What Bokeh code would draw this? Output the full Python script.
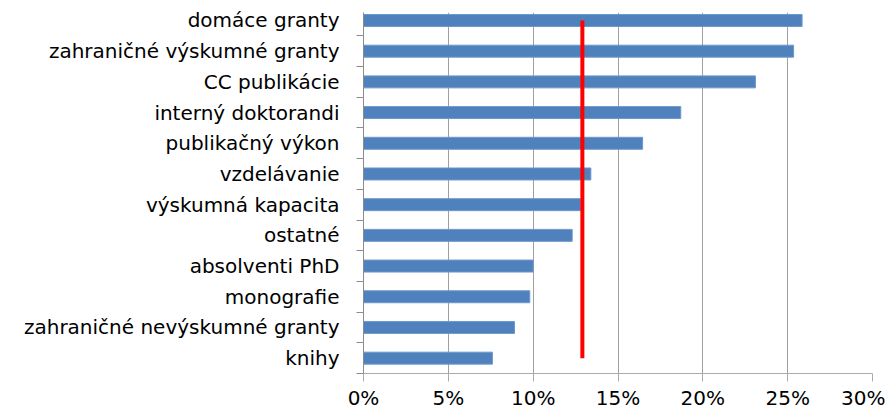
from bokeh.plotting import figure
from bokeh.models import Range1d, FixedTicker
from bokeh.embed import file_html
from bokeh.resources import INLINE

categories = ["domáce granty", "zahraničné výskumné granty", "CC publikácie",
              "interný doktorandi", "publikačný výkon", "vzdelávanie",
              "výskumná kapacita", "ostatné", "absolventi PhD", "monografie",
              "zahraničné nevýskumné granty", "knihy"]
values = [25.85, 25.35, 23.1, 18.7, 16.45, 13.4, 12.8, 12.3, 10.0, 9.8, 8.9, 7.6]
reference_value = 12.9
x_ticks = [0, 5, 10, 15, 20, 25, 30]
x_tick_labels = ["0%", "5%", "10%", "15%", "20%", "25%", "30%"]

n = len(categories)
ypos = [n - 0.5 - i for i in range(n)]

p = figure(width=885, height=412, output_backend="svg", toolbar_location=None,
           x_range=Range1d(0, 30), y_range=Range1d(0, 11.76),
           min_border_left=363, min_border_right=13, min_border_top=12,
           min_border_bottom=33)
p.outline_line_color = None
p.background_fill_color = "white"
p.border_fill_color = "white"

p.hbar(y=ypos, right=values, left=0, height=0.39, fill_color="#4F81BD",
       line_color="#6E98CC", line_width=1)

p.line(x=[reference_value, reference_value], y=[ypos[0], ypos[-1]],
       line_color="#FF0000", line_width=4)

# x axis
p.xaxis.ticker = FixedTicker(ticks=x_ticks)
p.xaxis.major_label_overrides = {t: l for t, l in zip(x_ticks, x_tick_labels)}
p.xaxis.axis_line_color = "#ABABAB"
p.xaxis.major_tick_line_color = "#ABABAB"
p.xaxis.major_tick_in = 0
p.xaxis.major_tick_out = 8
p.xaxis.minor_tick_line_color = None
p.xaxis.major_label_text_font = "DejaVu Sans"
p.xaxis.major_label_text_font_size = "20px"
p.xaxis.major_label_text_color = "#000000"
p.xaxis.major_label_standoff = 4

# y axis
p.yaxis.ticker = FixedTicker(ticks=ypos, minor_ticks=list(range(0, n)))
p.yaxis.major_label_overrides = {y: c for y, c in zip(ypos, categories)}
p.yaxis.axis_line_color = "#8C8C8C"
p.yaxis.major_tick_line_color = None
p.yaxis.major_tick_in = 0
p.yaxis.major_tick_out = 0
p.yaxis.minor_tick_line_color = "#8C8C8C"
p.yaxis.minor_tick_in = 0
p.yaxis.minor_tick_out = 7
p.yaxis.major_label_text_font = "DejaVu Sans"
p.yaxis.major_label_text_font_size = "20px"
p.yaxis.major_label_text_color = "#000000"
p.yaxis.major_label_standoff = 17

p.xgrid.grid_line_color = "#A0A0A0"
p.xgrid.grid_line_width = 1
p.ygrid.grid_line_color = None

open("out.html", "w").write(file_html(p, INLINE))
